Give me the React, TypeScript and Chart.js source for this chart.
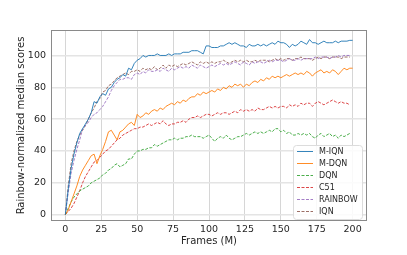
import React, { useEffect, useRef } from "react";
import { Chart, registerables } from "chart.js";

Chart.register(...registerables);

const STEP = 2; // frames (M) between samples
const X_TICKS = [0, 25, 50, 75, 100, 125, 150, 175, 200];
const Y_TICKS = [0, 20, 40, 60, 80, 100];
const LABELS = ["M-IQN", "M-DQN", "DQN", "C51", "RAINBOW", "IQN"];

const M_IQN = [0, 16, 29, 38, 45, 51, 54, 57, 60, 64, 71, 70, 74, 76, 75, 79, 80, 83, 85, 86, 88, 87, 92, 91, 95, 97, 98, 100, 99, 100, 100, 100, 101, 100, 100, 100, 101, 100, 101, 101, 101, 102, 102, 102, 103, 103, 103, 102, 101, 106, 106, 105, 105, 105, 106, 106, 107, 108, 107, 108, 107, 106, 106, 105, 107, 106, 106, 107, 106, 107, 106, 107, 108, 107, 109, 108, 108, 107, 105, 107, 106, 107, 109, 108, 107, 110, 108, 108, 107, 108, 109, 108, 108, 108, 109, 108, 109, 109, 109, 109.5, 109.5];
const M_DQN = [0, 3, 8, 13, 18, 24, 28, 31, 34, 37, 38, 32, 37, 41, 46, 52, 53, 50, 47, 52, 53, 55, 57, 58, 56, 63, 61, 62, 64, 63, 65, 66, 65, 67, 66, 68, 69, 70, 69, 71, 70, 72, 71, 73, 74, 74, 76, 75, 77, 76, 77, 78, 77, 79, 78, 80, 79, 81, 80, 82, 81, 82, 80, 82, 81, 83, 84, 83, 85, 84, 86, 85, 87, 86, 87, 86, 87, 88, 87, 88, 89, 88, 89, 88, 90, 89, 87, 89, 90, 91, 89, 90, 89, 91, 90, 88, 90, 92, 91, 92, 92];
const DQN = [0, 4, 8, 11, 13, 15, 16, 17, 18, 20, 21, 22, 23, 25, 26, 28, 29, 31, 32, 30, 31, 32, 35, 35, 38, 40, 40, 41, 41, 42, 42, 44, 43, 44, 45, 46, 47, 47, 48, 47, 48, 48, 49, 49, 50, 49, 49, 49, 48, 49, 50, 48, 46, 48, 49, 48, 50, 48, 47, 48, 49, 49, 50, 51, 50, 51, 52, 51, 52, 51, 52, 53, 52, 54, 54, 52, 53, 51, 52, 50, 50, 51, 50, 51, 50, 51, 49, 48, 50, 51, 49, 50, 51, 49, 50, 48, 50, 49, 50, 51];
const C51 = [0, 2, 4, 7, 11, 15, 20, 24, 27, 30, 33, 34, 36, 38, 40, 41, 43, 45, 47, 48, 50, 51, 52, 53, 54, 54, 55, 55, 56, 57, 56, 57, 58, 57, 59, 57, 56, 57, 57, 58, 58, 59, 58, 60, 61, 61, 62, 61, 62, 63, 63, 62, 63, 64, 63, 64, 64, 63, 64, 65, 64, 66, 65, 66, 65, 66, 65, 67, 66, 66, 67, 68, 67, 68, 67, 68, 68, 67, 69, 68, 69, 68, 70, 69, 70, 70, 68, 70, 71, 70, 69, 70, 71, 72, 71, 70, 71, 70, 70, 69];
const RAINBOW = [0, 14, 26, 34, 41, 47, 54, 56, 58, 61, 63, 64, 66, 68, 71, 74, 78, 81, 83, 85, 85, 86, 86, 85, 88, 89, 88, 90, 89, 91, 90, 90, 91, 90, 92, 91, 90, 92, 91, 92, 93, 92, 93, 92, 94, 93, 92, 94, 93, 92, 93, 94, 93, 94, 95, 94, 95, 94, 95, 96, 95, 94, 96, 95, 94, 96, 95, 96, 96, 95, 96, 97, 96, 97, 97, 97, 96, 97, 98, 97, 97, 98, 97, 98, 98, 98, 98, 99, 98, 99, 99, 99, 98, 99, 99, 100, 99, 100, 100, 100];
const IQN = [0, 18, 32, 40, 46, 50, 53, 56, 60, 64, 67, 71, 73, 77, 78, 81, 82, 84, 86, 87, 88, 89, 88, 90, 90, 91, 90, 92, 91, 92, 91, 93, 91, 92, 94, 92, 94, 93, 94, 93, 94, 95, 94, 95, 96, 95, 94, 96, 95, 96, 95, 96, 95, 96, 96, 97, 96, 95, 96, 97, 96, 97, 96, 97, 96, 96, 97, 96, 97, 97, 97, 96, 97, 98, 97, 98, 97, 98, 98, 97, 98, 98, 99, 98, 98, 98, 97, 98, 99, 98, 99, 99, 98, 99, 99, 99, 98, 99, 99, 99];

const SERIES = [M_IQN, M_DQN, DQN, C51, RAINBOW, IQN];
const COLORS = [
  "rgba(31,119,180,0.9)",
  "rgba(255,127,14,0.9)",
  "rgba(44,160,44,0.85)",
  "rgba(214,39,40,0.85)",
  "rgba(148,103,189,0.85)",
  "rgba(140,86,75,0.85)",
];
const DASHES: number[][] = [[], [], [3, 1.5], [3, 1.5], [3, 1.5], [3, 1.5]];

const FONT = "'DejaVu Sans', sans-serif";

const boxAndLegend = {
  id: "boxAndLegend",
  afterDatasetsDraw(chart: any) {
    const { ctx, chartArea } = chart;
    ctx.save();
    ctx.strokeStyle = "#8a8a8a";
    ctx.lineWidth = 1;
    ctx.strokeRect(
      Math.round(chartArea.left) + 0.5,
      Math.round(chartArea.top) + 0.5,
      Math.round(chartArea.right - chartArea.left) - 1,
      Math.round(chartArea.bottom - chartArea.top) - 1
    );
    // legend box
    const bx = 293.5, by = 145.5, bw = 69, bh = 74, r = 3;
    ctx.beginPath();
    ctx.moveTo(bx + r, by);
    ctx.lineTo(bx + bw - r, by);
    ctx.quadraticCurveTo(bx + bw, by, bx + bw, by + r);
    ctx.lineTo(bx + bw, by + bh - r);
    ctx.quadraticCurveTo(bx + bw, by + bh, bx + bw - r, by + bh);
    ctx.lineTo(bx + r, by + bh);
    ctx.quadraticCurveTo(bx, by + bh, bx, by + bh - r);
    ctx.lineTo(bx, by + r);
    ctx.quadraticCurveTo(bx, by, bx + r, by);
    ctx.closePath();
    ctx.fillStyle = "rgba(255,255,255,0.85)";
    ctx.fill();
    ctx.strokeStyle = "#dcdcdc";
    ctx.setLineDash([]);
    ctx.stroke();
    ctx.font = `8px ${FONT}`;
    ctx.textBaseline = "middle";
    ctx.textAlign = "left";
    LABELS.forEach((label, i) => {
      const y = 151.5 + i * 12;
      ctx.beginPath();
      ctx.setLineDash(DASHES[i]);
      ctx.strokeStyle = COLORS[i];
      ctx.lineWidth = 1;
      ctx.moveTo(297, y);
      ctx.lineTo(313, y);
      ctx.stroke();
      ctx.setLineDash([]);
      ctx.fillStyle = "#262626";
      ctx.fillText(label, 319, y + 0.5);
    });
    ctx.restore();
  },
};

export default function App() {
  const ref = useRef<HTMLCanvasElement>(null);
  useEffect(() => {
    if (!ref.current) return;
    const chart = new Chart(ref.current, {
      type: "line",
      data: {
        datasets: SERIES.map((s, i) => ({
          label: LABELS[i],
          data: s.map((v, j) => ({ x: j * STEP, y: v })),
          borderColor: COLORS[i],
          backgroundColor: COLORS[i],
          borderWidth: 1,
          borderDash: DASHES[i],
          pointRadius: 0,
          tension: 0,
          fill: false,
        })),
      },
      options: {
        animation: false,
        responsive: false,
        maintainAspectRatio: false,
        layout: { padding: { top: 30, right: 40, left: 0, bottom: 0 } },
        plugins: { legend: { display: false }, tooltip: { enabled: false } },
        scales: {
          x: {
            type: "linear",
            min: -10,
            max: 210,
            afterFit: (s: any) => { s.height = 34; },
            afterBuildTicks: (s: any) => { s.ticks = X_TICKS.map((v) => ({ value: v })); },
            ticks: { font: { family: FONT, size: 9.5 }, color: "#262626", padding: 3, maxRotation: 0 },
            grid: { color: "#d6d6d6", lineWidth: 1, drawTicks: false },
            border: { display: false },
            title: { display: true, text: "Frames (M)", font: { family: FONT, size: 10 }, color: "#262626", padding: { top: 4, bottom: 8 } },
          },
          y: {
            type: "linear",
            min: -4,
            max: 116,
            afterFit: (s: any) => { s.width = 51; },
            afterBuildTicks: (s: any) => { s.ticks = Y_TICKS.map((v) => ({ value: v })); },
            ticks: { font: { family: FONT, size: 9.5 }, color: "#262626", padding: 5 },
            grid: { color: "#e4e4e4", lineWidth: 1.5, drawTicks: false },
            border: { display: false },
            title: { display: true, text: "Rainbow-normalized median scores", font: { family: FONT, size: 10 }, color: "#262626", padding: { top: 15, bottom: 0 } },
          },
        },
      },
      plugins: [boxAndLegend],
    });
    return () => chart.destroy();
  }, []);
  return (
    <div style={{ position: "fixed", left: 0, top: 0, width: 407, height: 255, background: "#fff" }}>
      <canvas ref={ref} width={407} height={255} style={{ display: "block", width: 407, height: 255 }} />
    </div>
  );
}
